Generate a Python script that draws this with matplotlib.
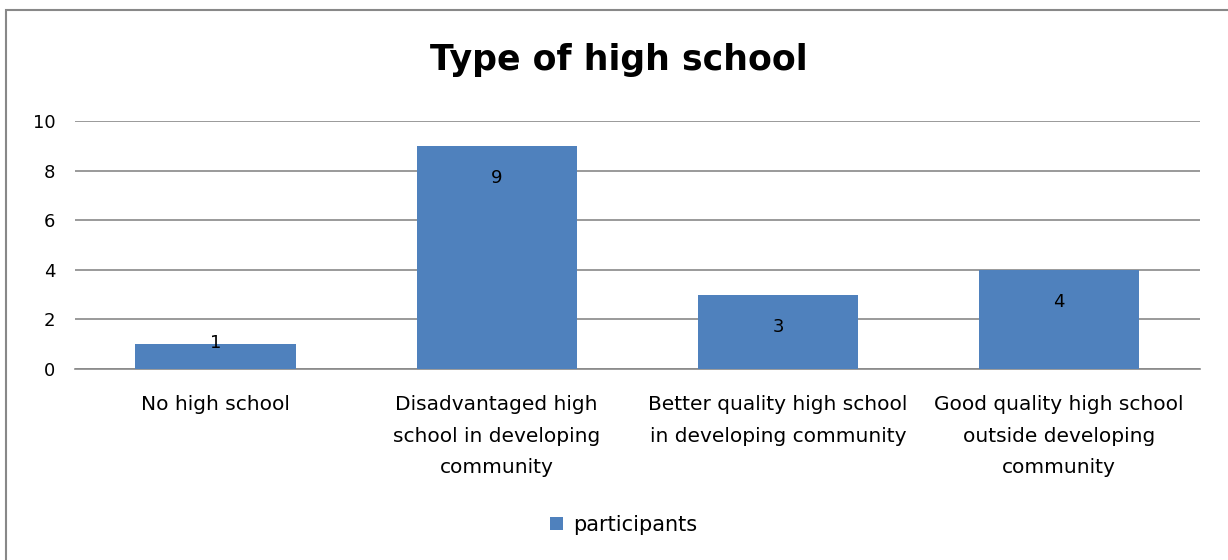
import matplotlib.pyplot as plt
from matplotlib.patches import Rectangle

# data
categories = ["No high school",
              "Disadvantaged high\nschool in developing\ncommunity",
              "Better quality high school\nin developing community",
              "Good quality high school\noutside developing\ncommunity"]
participants = [1, 9, 3, 4]

bar_color = "#4F81BD"
grid_color = "#898989"

fig = plt.figure(figsize=(12.28, 5.6), dpi=100)
ax = fig.add_axes([0.061, 0.341, 0.916, 0.443])

x = range(len(categories))
bars = ax.bar(x, participants, width=0.57, color=bar_color, zorder=3, label="participants")

ax.set_xlim(-0.5, len(categories) - 0.5)
ax.set_ylim(0, 10)
ax.set_yticks(range(0, 11, 2))
ax.grid(axis="y", color=grid_color, linewidth=1.2, zorder=0)
for s in ["top", "right", "left"]:
    ax.spines[s].set_visible(False)
ax.spines["bottom"].set_color(grid_color)
ax.spines["bottom"].set_linewidth(1.2)
ax.tick_params(axis="both", length=0)
ax.tick_params(axis="y", pad=14, labelsize=13)
ax.tick_params(axis="x", pad=19, labelsize=14.5)
ax.set_xticks(list(x))
ax.set_xticklabels(categories, linespacing=1.83)

# value labels inside the bar end
for i, v in enumerate(participants):
    ax.text(i, max(v - 1.3, 1.05), str(v), ha="center", va="center", fontsize=13, zorder=4)

fig.text(0.504, 0.893, "Type of high school", ha="center", va="center",
         fontsize=25, fontweight="bold")

fig.legend(handles=[bars], labels=["participants"], loc="center",
           bbox_to_anchor=(0.508, 0.063), frameon=False, fontsize=15,
           handlelength=0.6, handleheight=0.6, handletextpad=0.5)

# chart border
fig.patches.append(Rectangle((6 / 1228, -0.05), 1.1, 1 - 10 / 560 + 0.05,
                             transform=fig.transFigure, fill=False,
                             edgecolor="#888888", linewidth=1.5))

fig.savefig("out.png", dpi=100)
